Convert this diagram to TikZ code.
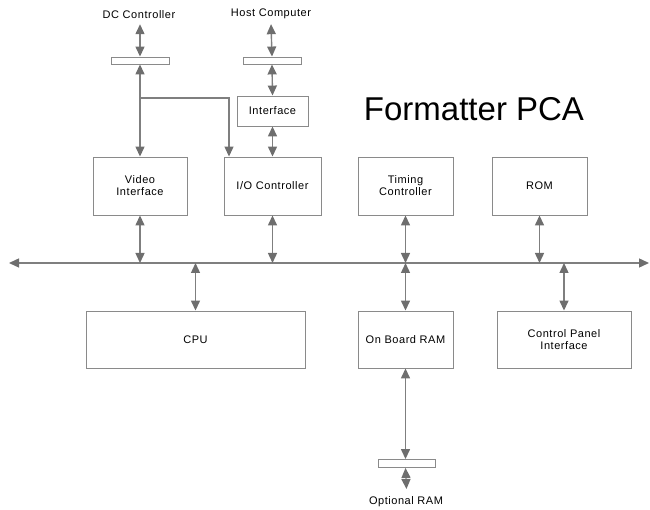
\documentclass[tikz,border=0pt]{standalone}
\usepackage{fontspec}
\setmainfont{Liberation Sans}
\newfontfamily\smallfam[LetterSpace=5]{Liberation Sans}
\usetikzlibrary{arrows.meta}
\definecolor{lnc}{HTML}{7F7F7F}
\definecolor{tipc}{HTML}{6E6E6E}
\definecolor{boxc}{HTML}{8A8A8A}
\tikzset{
  lbl/.style={font=\smallfam\fontsize{11}{12}\selectfont, inner sep=1pt, align=center},
  blk/.style={draw=boxc, line width=0.9pt, minimum height=58pt, lbl},
  barbox/.style={draw=boxc, line width=0.9pt, minimum width=58pt, minimum height=7pt, inner sep=0pt},
  tip/.tip={Triangle[width=9pt,length=10pt,color=tipc]},
  dbl/.style={draw=lnc, line width=1.4pt, {tip}-{tip}},
  sgl/.style={draw=lnc, line width=1.1pt, -{tip}},
}
\begin{document}
\begin{tikzpicture}[x=1pt,y=-1pt]
\useasboundingbox (0,0) rectangle (650,510);
% texts
\node[lbl] (dc) at (139,15) {DC Controller};
\node[lbl] (host) at (271,14) {Host Computer};
\node[font=\fontsize{33}{36}\selectfont, anchor=base] (title) at (474,121) {Formatter PCA};
% bars
\node[barbox] (dcbar) at (140,60.5) {};
\node[barbox] (hostbar) at (272,60.5) {};
\node[barbox, minimum width=57pt, minimum height=8pt] (rambar) at (406.5,463.5) {};
% blocks
\node[blk, minimum width=71pt, minimum height=30pt] (iface) at (272.5,111) {Interface};
\node[blk, minimum width=94pt] (video) at (140,186) {Video\\Interface};
\node[blk, minimum width=97pt] (io) at (272.5,186) {I/O Controller};
\node[blk, minimum width=95pt] (timing) at (405.5,186) {Timing\\Controller};
\node[blk, minimum width=95pt] (rom) at (539.5,186) {ROM};
\node[blk, minimum width=219pt, minimum height=57pt] (cpu) at (195.5,339.5) {CPU};
\node[blk, minimum width=95pt, minimum height=57pt] (ram) at (405.5,339.5) {On Board RAM};
\node[blk, minimum width=134pt, minimum height=57pt] (cp) at (564,339.5) {Control Panel\\Interface};
\node[lbl] (opt) at (406,502) {Optional RAM};
% coordinates
\coordinate (busL) at (9,263);
\coordinate (busR) at (649,263);
\coordinate (branch) at (140,98);
\coordinate (optTop) at (406.5,489);
% bus
\draw[dbl] (busL) -- (busR);
% top connections
\draw[dbl] (dcbar.north |- dc.south) ++(0,4) -- (dcbar.north);
\draw[dbl] (host.south) ++(0,4) -- (hostbar.north);
\draw[dbl] (hostbar.south) -- (iface.north);
\draw[dbl] (iface.south) -- (io.north);
\draw[dbl] (dcbar.south) -- (video.north);
\draw[sgl] (branch) -| ([xshift=-43.5pt]io.north);
% bus connections
\draw[dbl] (video.south) -- (video.south |- busL);
\draw[dbl] (io.south) -- (io.south |- busL);
\draw[dbl] (timing.south) -- (timing.south |- busL);
\draw[dbl] (rom.south) -- (rom.south |- busL);
\draw[dbl] (cpu.north |- busL) -- (cpu.north);
\draw[dbl] (ram.north |- busL) -- (ram.north);
\draw[dbl] (cp.north |- busL) -- (cp.north);
% ram to optional
\draw[dbl] (ram.south) -- (ram.south |- rambar.north);
\draw[dbl] (ram.south |- rambar.south) -- (optTop);
\end{tikzpicture}
\end{document}
